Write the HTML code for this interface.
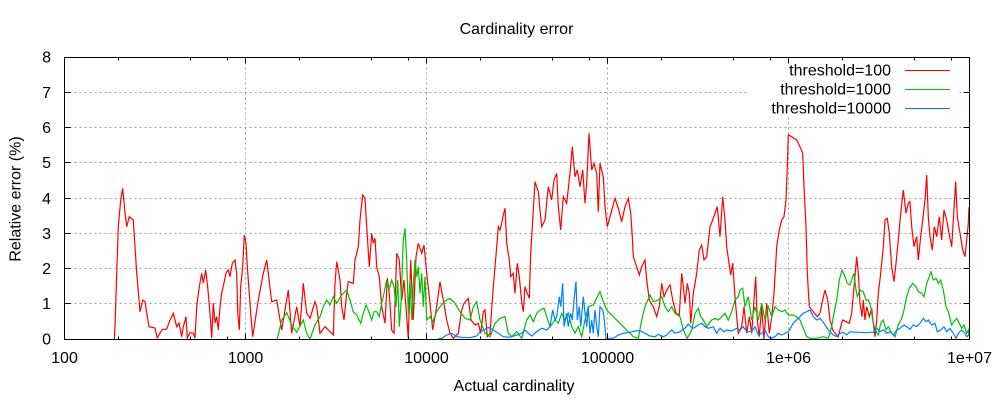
<!DOCTYPE html>
<html>
<head>
<meta charset="utf-8">
<style>
html,body{margin:0;padding:0;background:#fff;}
svg{display:block;}
text{font-family:"Liberation Sans",Arial,sans-serif;font-size:16px;fill:#000;}
</style>
</head>
<body>
<svg width="1000" height="400" viewBox="0 0 1000 400" xmlns="http://www.w3.org/2000/svg">
<rect x="0" y="0" width="1000" height="400" fill="#fff"/>
<defs><clipPath id="pc"><rect x="64.5" y="57.5" width="905" height="282"/></clipPath></defs>

<!-- grid -->
<g stroke="#a0a0a0" stroke-width="1" stroke-dasharray="2,3" fill="none">
<line x1="64.5" y1="303.5" x2="969.5" y2="303.5"/>
<line x1="64.5" y1="268.5" x2="969.5" y2="268.5"/>
<line x1="64.5" y1="233.5" x2="969.5" y2="233.5"/>
<line x1="64.5" y1="198.5" x2="969.5" y2="198.5"/>
<line x1="64.5" y1="162.5" x2="969.5" y2="162.5"/>
<line x1="64.5" y1="127.5" x2="969.5" y2="127.5"/>
<line x1="64.5" y1="92.5" x2="969.5" y2="92.5"/>
<line x1="245.5" y1="57.5" x2="245.5" y2="339.5"/>
<line x1="426.5" y1="57.5" x2="426.5" y2="339.5"/>
<line x1="607.5" y1="57.5" x2="607.5" y2="339.5"/>
<line x1="788.5" y1="57.5" x2="788.5" y2="339.5"/>
</g>

<!-- legend background -->
<rect x="747" y="58" width="212" height="58" fill="#fff"/>

<!-- series -->
<g clip-path="url(#pc)" fill="none" stroke-width="1.2" stroke-linejoin="miter">
<polyline stroke="#ff0000" points="114.3,339 115,325.7 116.7,273 118.3,226.7 120.7,200 122.7,188.3 125,213 126.7,226.7 129.3,216.7 133.3,220 135,246.7 136.7,273 139.3,303 140,311.7 142.7,300 145,301.7 146.7,313 149,326.7 155,328 157.3,338 160,333 162.3,329.3 166.7,329.3 169.3,321.7 173.3,313.3 176.7,326.7 179,323 181.7,336.7 183.3,326.7 186,316.7 187.3,338 190,332.7 193.3,333.3 195,338 196.7,306.7 199.3,286.7 201.7,273.3 203.3,283 205.7,270 208.3,293 210.7,323 211.7,338 213.3,303 215,323 216.7,316.7 218.3,330 220,306.7 221.7,293 224,283 226,273 228.3,270 230,276.7 232.3,263.3 235,260 236.7,273.3 237.7,313 239.3,330 240.7,286.7 242.7,266.7 244.3,235 246,243.3 247.3,266.7 249.3,293.3 250.7,313.3 252.7,336.7 258.3,300 263.3,273.3 266.7,260 271.7,301.7 276.7,300 281.7,330 288.3,290 291.7,333.3 296.7,306.7 300,326.7 303.3,283.3 306.7,313.3 310,318.3 315,301.7 316.7,306.7 320,333.3 325,326.7 328.3,330 333.3,335 335,283.3 336.7,261.7 340,280 341.7,306.7 344,320 346.7,293.3 348.3,281.7 353.3,283.3 355,260 358.3,246.7 360,220 362.7,195 365,198.3 366.7,226.7 369.3,266.7 371.7,233.3 373.3,243.3 375,238.3 376.7,266.7 379.3,276.7 381.7,306.7 385,323.3 387.3,278.3 389.3,293.3 391.7,330 394,333.3 396.7,253.3 399.3,260 401.7,300 404,280 406.7,316.7 408.3,338.3 410.7,260 413.3,320 416,256.7 418.3,243.3 421.7,253.3 424,245 426.7,273.3 430,303.3 432.7,330 436.7,306.7 440,281.7 443.3,300 446.7,320 450,333.3 453.3,338.3 458.3,333.3 461.7,310 464,303.3 468.3,298.3 471,320 475,325 478.3,323.3 480.7,333.3 483.3,311.7 485,310 487.3,336.7 490,333.3 493.3,286.7 496.7,246.7 498.3,226.7 500,230 501.7,223.3 503.3,215 505,208.3 506.7,243.3 509.3,260 510.7,276.7 513.3,273.3 515,293.3 517.3,263.3 519.3,276.7 521.7,301.7 523.3,311.7 525,286.7 527.3,293.3 529.3,298.3 530.7,253.3 532.7,220 535,181.7 538.3,191.7 540,210 541.7,226.7 545,220 548.3,186.7 551.7,200 554,180 556.7,173.3 558.3,206.7 560.7,230 563.3,196.7 566.7,203.3 570,173.3 572.3,146.7 575,176.7 577.3,170 580,186.7 582.7,170 585,203.3 586.7,183.3 589,133.3 591.7,170 594,163.3 596.7,173.3 598.3,211.7 600,163.3 603.3,176.7 605,206.7 607.3,226.7 610,216.7 615,198.3 618.3,208.3 621.7,221.7 625,206.7 628.3,198.3 630.7,213.3 632.3,236.7 633.3,256.7 636.7,266.7 639.3,275 641.7,266.7 645,260 646.7,280 649.3,300 653.3,306.7 656.7,316.7 659.3,306.7 661.7,283.3 664,296.7 666.7,290 670,285 672.7,300 676,313.3 679.3,315 681.7,273.3 683.3,286.7 685,303.3 687.3,283.3 689.3,293.3 690.7,323.3 693.3,293.3 696.7,273.3 699.3,250 701.7,245 704,260 706.7,256.7 710,226.7 712.7,220 715,213.3 717.3,206.7 720,236.7 722.7,196.7 725,220 726.7,246.7 729,263.3 730.7,275 732.7,263.3 735,296.7 736.7,316.7 738.3,333.3 741.7,326.7 744,306.7 746.7,333.3 749.3,316.7 751.7,333.3 754,300 755.7,276.7 757.3,320 759.3,336.7 761.7,306.7 764,339 766.7,303.3 769.3,333.3 771.7,316.7 774,293.3 776.7,246.7 779.3,230 781.7,220 784,216.7 786,200 787.3,166.7 788.3,135 791.7,136.7 796.7,140 800,146.7 802.7,153.3 804,186.7 806,226.7 807.3,273.3 809.3,306.7 813.3,311.7 817.3,316.7 820,313.3 822.7,300 825,290 827.7,300 830,320 832.7,330 835,333.3 838.3,336.7 840.7,326.7 842.7,320 846,321.7 849.3,323.3 851.7,313.3 854,286.7 856.7,256.7 858.3,273.3 860,303.3 862,316.7 863.3,300 865,320 866.7,306.7 869.3,316.7 871.7,308.3 873.3,323.3 875,336.7 876.7,320 878.3,293.3 880.7,273.3 883.3,246.7 885,220 887.3,218.3 889.3,233.3 891.7,266.7 894,281.7 896,263.3 898.3,240 900.7,213.3 903.3,190 906,213.3 908.3,203.3 910,201.7 911.7,226.7 914,246.7 916.7,236.7 918.3,260 920.7,236.7 922.7,220 925,200 926.7,175 928.3,216.7 930,236.7 932.3,250 934.3,226.7 936.7,236.7 939.3,216.7 941.7,240 944,210 946.7,220 949,233.3 951.7,246.7 953.3,220 955.7,181.7 957.3,216.7 960,233.3 962.7,250 965,256.7 966.7,240 968.3,223.3 969,207"/>
<polyline stroke="#00c000" points="277.3,339 281.7,320 286.7,312.7 291.7,325 296.7,332.3 303.3,320 306.7,333.3 310,339 315,325 320,316.7 323.3,306.7 326.7,300 330,305 333.3,296.7 336.7,303.3 341.7,295 346.7,290 350,300 353.3,311.7 356.7,315 360.7,323.3 363.3,313.3 366,305 368.3,310 371.7,320 374,311.7 376.7,311.7 379.3,316.7 381.7,303.3 384,293.3 386.7,280 389,290 391.7,280 394,286.7 396,306.7 397.7,280 399.3,326.7 401,303.3 402.3,266.7 403.3,240 405,228.3 406.7,260 408.3,313.3 410,280 411.7,320 413.3,286.7 415,260 416.7,276.7 418.3,266.7 420,293.3 421.7,273.3 423.3,306.7 425,276.7 426.7,320 430,316.7 432.7,321.7 436.7,311.7 440,306.7 445,301 450,298.3 455,303.3 460,311.7 465,318.3 470,320 473.3,306.7 476.7,301.7 480,320 485,333.3 490,336.7 495,323.3 500,318.3 505,316.7 508.3,333.3 511.7,336.7 516.7,331.7 521.7,338.3 526.7,320 530,315 533.3,321.7 536.7,313.3 540,310 544,308.3 546.7,316.7 550,326.7 555,320 558.3,323.3 561.7,313.3 565,320 568.3,313.3 571.7,326.7 575,333.3 578.3,326.7 581.7,336.7 585,320 588.3,306.7 593.3,305 597.3,296.7 600,291.7 602.7,300 606.7,310 613.3,316.7 620,323.3 626.7,330 633.3,336.7 638.3,338.3 641.7,320 645,306.7 650,295 653.3,301.7 658.3,300 661.7,296.7 665,306.7 668.3,311.7 671.7,306.7 675,313.3 680,316.7 683.3,330 687.3,338.3 691.7,330 695,313.3 698.3,308.3 700.7,316.7 703.3,320 706.7,326.7 711.7,320 715,318.3 718.3,320 721.7,316.7 725,313.3 728.3,320 731.7,311.7 735,300 738.3,296.7 740,290 742.7,288.3 745,306.7 748.3,296.7 751.7,320 755,306.7 758.3,320 761.7,303.3 765,320 768.3,306.7 771.7,316.7 775,306.7 778.3,310 781.7,311.7 785,310 788.3,315 793.3,315 796.7,316.7 800,320 803.3,328.3 806.7,336.7 810,338.3 816.7,338.3 823.3,336.7 828.3,338.3 831.7,326.7 833.3,316.7 836.7,300 839.3,280 842,270 845,276.7 847.3,283.3 850,285 852.7,276.7 854,273.3 856,290 857.3,296.7 860,290 863.3,291.7 866,300 868.3,300 870.7,306.7 872.7,320 875,330 878.3,335 880.7,323.3 883.3,320 886,330 888.3,326.7 891.7,333.3 895,336.7 898.3,325 901.7,318.3 904,310 906.7,296.7 909.3,288.3 912.7,283.3 916,286.7 918.3,291.7 921.7,293.3 924,296.7 926.7,283.3 929.3,276.7 931,271.7 933.3,280 936,278.3 938.3,283.3 940.7,280 943.3,290 946,306.7 948.3,311.7 951.7,325 954,321.7 956.7,318.3 959.3,323.3 961.7,328.3 964,325 966.7,333.3 968.3,330 969,336"/>
<polyline stroke="#0080ff" points="438,339 441.7,338.3 446.7,335 451.7,333.3 456.7,336.7 461.7,337.3 470,337.7 476.7,336 480,331.7 485,329.3 488.3,327.3 493.3,330 498.3,333.3 503.3,336.7 510,337.3 516.7,335 521.7,333.3 525,330 528.3,333.3 531.7,336 536.7,331.7 541.7,328.3 546.7,330 550,326.7 552.7,310 555,320 556.7,316.7 559.3,296.7 560.7,306.7 562.7,283.3 564,326.7 566.7,313.3 568.3,326.7 570.7,313.3 572.3,320 574,300 576,281.7 577.3,320 579.3,306.7 580.7,326.7 583.3,296.7 585,313.3 586.7,326.7 588.3,306.7 590,333.3 591.7,320 593.3,333.3 595,310 596.7,326.7 598.3,336.7 600,306.7 602.7,310 604,316.7 606,338.3 613.3,338.3 618.3,335 623.3,333.3 630,332.3 635,331 640,330.7 645,333.3 650,336 655,336.7 658.3,334.3 663.3,336.7 666.7,335 671.7,330 675,333.3 680,331.7 685,328.3 688.3,324 690.7,326.7 693.3,328.3 698.3,325 701.7,323.3 705,326.7 708.3,328.3 713.3,326.7 716.7,333.3 720,328.3 724,331.7 726.7,330 731.7,331 736.7,328.3 740,330 743.3,326.7 746.7,331.7 751.7,331.7 755,326.7 758.3,335 761.7,333.3 765,330 768.3,336.7 771.7,338.3 775,336.7 778.3,333.3 781.7,335 785,333.3 788.3,331.7 793.3,323.3 798.3,318.3 803.3,313.3 806.7,311.7 810,310 813.3,316.7 816.7,320 820,318.3 824,323.3 828.3,330 833.3,335 836.7,336.7 840,333.3 843.3,332.3 846.7,335 850,331.7 855,332.3 860,332.3 865,332.7 870,332.3 873.3,332.3 876.7,328.3 880,331.7 883.3,330 886.7,333.3 890,331.7 893.3,335 896.7,330 900,328.3 904,325 906.7,326.7 910,329.3 913.3,325 916.7,326.7 920,323.3 923.3,318.3 926,321.7 928.3,320 931.7,325 935,323.3 937.3,331.7 940.7,330 944,326.7 946.7,331.7 950,328.3 953.3,333.3 956,338.3 958.3,333.3 961.7,330 965,333.3 966.7,336.7 969,335"/>
</g>

<!-- border -->
<rect x="64.5" y="57.5" width="905" height="282" fill="none" stroke="#000" stroke-width="1"/>

<!-- ticks -->
<g stroke="#000" stroke-width="1">
<!-- y major left/right -->
<path d="M64.5 303.5h6M64.5 268.5h6M64.5 233.5h6M64.5 198.5h6M64.5 162.5h6M64.5 127.5h6M64.5 92.5h6
M969.5 303.5h-6M969.5 268.5h-6M969.5 233.5h-6M969.5 198.5h-6M969.5 162.5h-6M969.5 127.5h-6M969.5 92.5h-6"/>
<!-- x major bottom/top -->
<path d="M245.5 339.5v-6M426.5 339.5v-6M607.5 339.5v-6M788.5 339.5v-6
M245.5 57.5v6M426.5 57.5v6M607.5 57.5v6M788.5 57.5v6"/>
<!-- x minor bottom -->
<path d="M118.5 339.5v-3M190.5 339.5v-3M227.5 339.5v-3M299.5 339.5v-3M371.5 339.5v-3M408.5 339.5v-3M480.5 339.5v-3M552.5 339.5v-3M589.5 339.5v-3M661.5 339.5v-3M733.5 339.5v-3M770.5 339.5v-3M842.5 339.5v-3M914.5 339.5v-3M951.5 339.5v-3"/>
<!-- x minor top -->
<path d="M118.5 57.5v3M190.5 57.5v3M227.5 57.5v3M299.5 57.5v3M371.5 57.5v3M408.5 57.5v3M480.5 57.5v3M552.5 57.5v3M589.5 57.5v3M661.5 57.5v3M733.5 57.5v3M770.5 57.5v3M842.5 57.5v3M914.5 57.5v3M951.5 57.5v3"/>
</g>

<!-- y tick labels -->
<g text-anchor="end">
<text x="51" y="344.5">0</text>
<text x="51" y="309">1</text>
<text x="51" y="274">2</text>
<text x="51" y="239">3</text>
<text x="51" y="204">4</text>
<text x="51" y="168">5</text>
<text x="51" y="133">6</text>
<text x="51" y="98">7</text>
<text x="51" y="62.5">8</text>
</g>

<!-- x tick labels -->
<g text-anchor="middle">
<text x="64.5" y="363">100</text>
<text x="245.5" y="363">1000</text>
<text x="426.5" y="363">10000</text>
<text x="607.5" y="363">100000</text>
<text x="788.5" y="363">1e+06</text>
<text x="969.5" y="363">1e+07</text>
</g>

<!-- titles -->
<text x="516.5" y="34" text-anchor="middle">Cardinality error</text>
<text x="514" y="391" text-anchor="middle">Actual cardinality</text>
<text transform="translate(20.5,199) rotate(-90)" text-anchor="middle">Relative error (%)</text>

<!-- legend -->
<g text-anchor="end">
<text x="891" y="75.5">threshold=100</text>
<text x="891" y="94.5">threshold=1000</text>
<text x="891" y="113.5">threshold=10000</text>
</g>
<line x1="905" y1="70.5" x2="950" y2="70.5" stroke="#ff0000" stroke-width="1"/>
<line x1="905" y1="89.5" x2="950" y2="89.5" stroke="#00c000" stroke-width="1"/>
<line x1="905" y1="108.5" x2="950" y2="108.5" stroke="#0080ff" stroke-width="1"/>
</svg>
</body>
</html>
